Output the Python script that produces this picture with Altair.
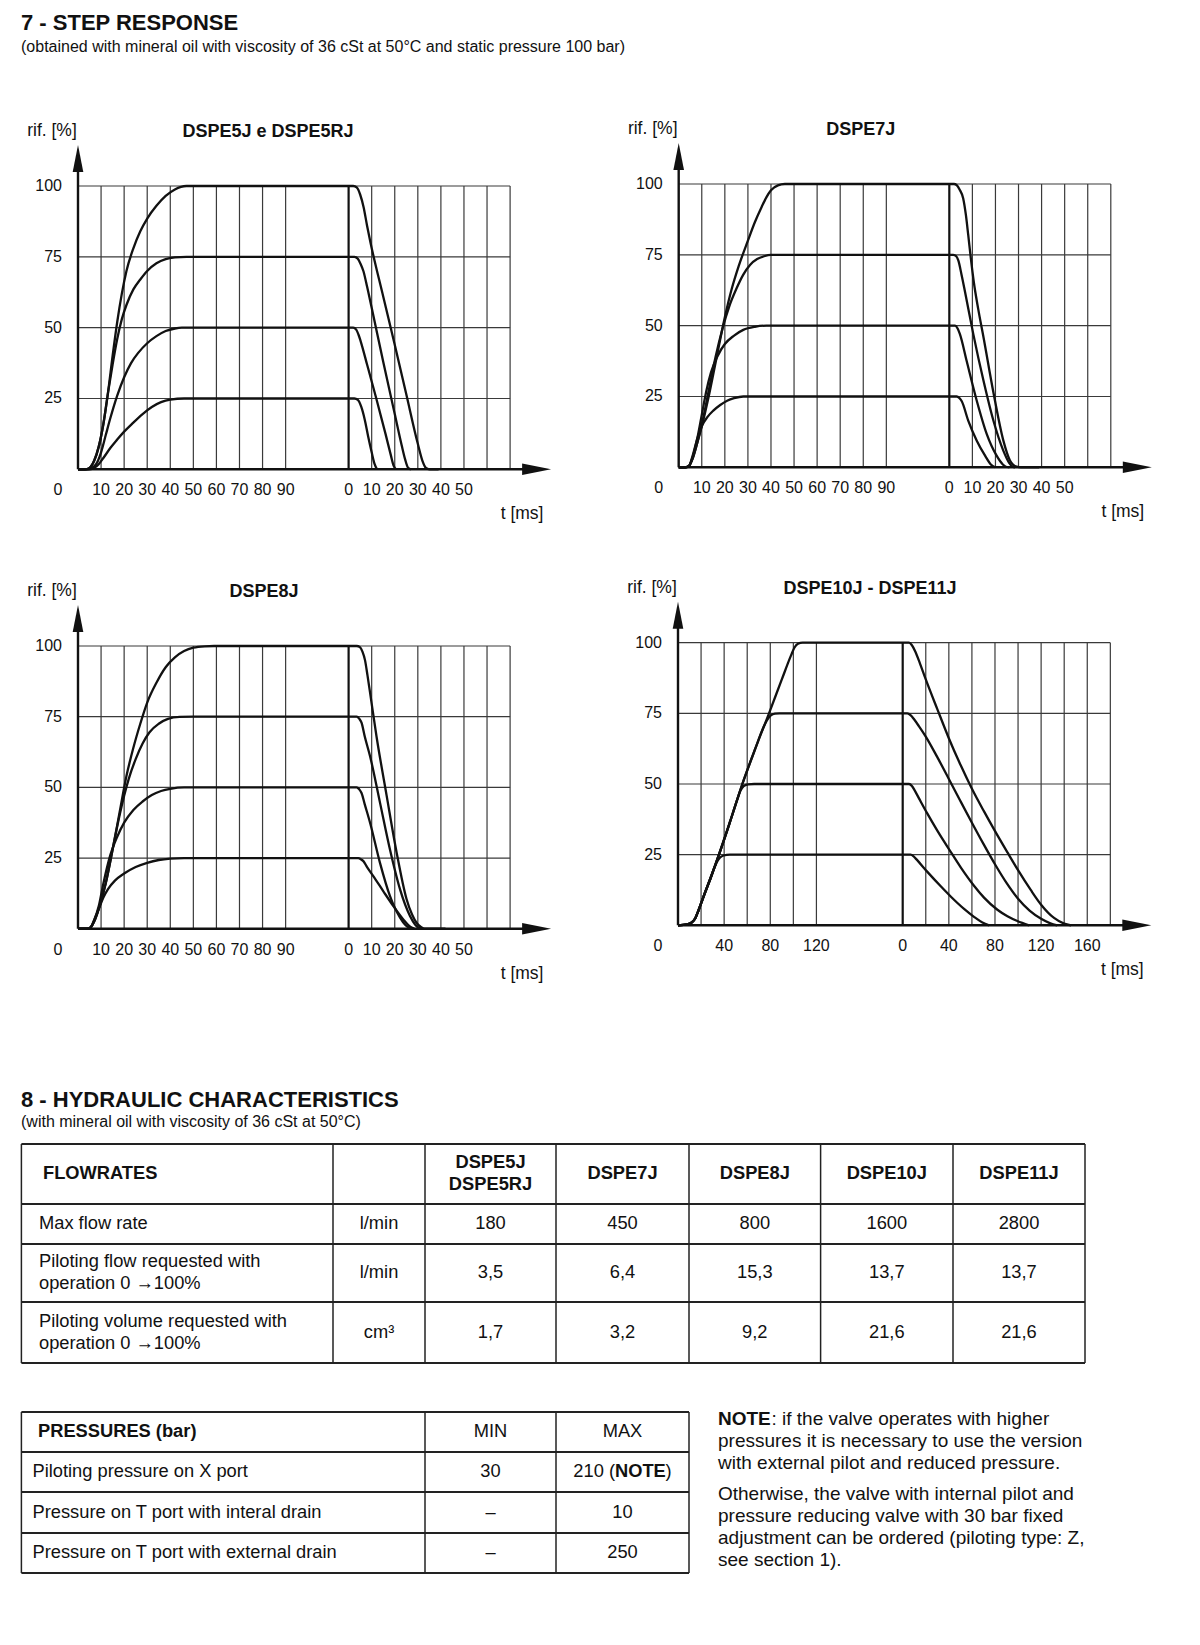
import altair as alt
import pandas as pd

FONT = "Liberation Sans"

# ---------------- step response data: (t [ms], rif. [%]) ----------------
LEVELS = [25, 50, 75, 100]

DSPE5_RISE = {
    100: [(0, 0), (3, 0), (5, 0.5), (7, 3), (9, 8), (11, 16), (13, 27), (15, 40), (17, 52), (19, 62), (21, 70),
          (24, 78), (27, 84), (30, 88.5), (34, 93), (38, 96.5), (42, 98.8), (47, 100)],
    75: [(0, 0), (3, 0), (5, 0.5), (7, 3), (9, 8), (11, 16), (13, 27), (15, 37), (17, 46), (19, 53), (21, 58),
         (24, 63.5), (27, 67), (30, 70), (34, 72.7), (38, 74.2), (42, 74.8), (47, 75)],
    50: [(0, 0), (4, 0), (6, 0.5), (8, 2), (10, 6), (12, 12), (14, 18), (17, 26), (20, 32.5), (23, 37.5),
         (26, 41), (30, 44.5), (34, 47), (38, 48.8), (42, 49.7), (45, 50)],
    25: [(0, 0), (5, 0), (8, 1), (11, 4), (14, 7.5), (17, 10.5), (20, 13.3), (24, 16.5), (28, 19.5), (32, 22),
         (36, 23.7), (40, 24.6), (46, 25)],
}
DSPE5_FALL = {
    100: [(0, 100), (2, 100), (3.5, 99.5), (5, 97), (6.5, 92.5), (8, 86), (9.5, 80), (15, 61), (20, 44),
          (25, 26.5), (30, 9), (32, 3), (33.5, 0.5), (35, 0), (39, 0)],
    75: [(0, 75), (2.5, 75), (4, 74.3), (5.2, 72.5), (6.4, 70), (8, 64.5), (10, 57), (15, 38), (20, 19.5),
         (23, 8.5), (24.5, 3.5), (25.8, 0.5), (27, 0)],
    50: [(0, 50), (2, 50), (3.3, 49.3), (4.3, 47.5), (5.3, 45), (8, 37), (12, 25), (16, 12.5), (18.3, 5),
         (19.5, 1.3), (20.5, 0)],
    25: [(0, 25), (2.5, 25), (4, 24.5), (5.5, 22), (7, 17.5), (8.5, 11.5), (10, 6), (11.2, 2), (12.3, 0)],
}

DSPE7_RISE = {
    100: [(0, 0), (3, 0), (4.5, 0.5), (6, 3), (8, 8.5), (10, 14.5), (13, 25), (16, 37), (20, 53), (23, 63),
          (26, 71), (30, 80), (33, 86.5), (36, 92), (38, 95.3), (40, 97.8), (43, 99.5), (46, 100)],
    75: [(0, 0), (3, 0), (4.5, 0.5), (6, 3), (8, 8.5), (10, 15), (13, 27), (16, 39), (19, 49), (22, 57),
         (25, 63), (28, 68), (31, 71.5), (34, 73.5), (37, 74.5), (40, 75)],
    50: [(0, 0), (3, 0), (4.5, 0.5), (6, 3.5), (8, 10), (10, 18.5), (12, 27), (14, 33.5), (17, 39.5),
         (20, 43.5), (24, 46.5), (28, 48.5), (33, 49.6), (38, 50)],
    25: [(0, 0), (3, 0), (4.5, 0.5), (6, 4), (8, 10), (10, 14.5), (12.5, 17.8), (15, 20), (18, 22),
         (21, 23.5), (24, 24.4), (28, 25)],
}
DSPE7_FALL = {
    100: [(0, 100), (2, 100), (3.2, 99.6), (4.5, 98), (6, 95), (7.2, 89), (8.2, 82), (9.3, 74), (10.6, 65.5),
          (12.5, 56), (14.8, 46), (19.1, 26.5), (23.4, 9.5), (26.3, 2.4), (29.2, 0.2), (31, 0), (39, 0)],
    75: [(0, 75), (1.7, 75), (3, 74.5), (3.9, 73), (5.3, 68), (6.8, 62), (10.4, 47), (14.8, 30.6), (19.1, 16.5),
         (23.4, 5.9), (26, 1.5), (27.5, 0.2), (28.5, 0)],
    50: [(0, 50), (2.5, 50), (3.6, 49), (4.6, 47), (7.5, 37.6), (11.9, 23.5), (16.2, 11.8), (20.5, 4.1),
         (23.2, 1), (24.5, 0.2), (26, 0)],
    25: [(0, 25), (3.2, 25), (4.3, 24.5), (5.4, 23.3), (8.2, 16.5), (11.9, 9.4), (15.5, 4.1), (18, 1), (19.8, 0)],
}

DSPE8_RISE = {
    100: [(0, 0), (4, 0), (5.5, 0.5), (7, 2.5), (9, 7), (12, 16), (15, 28), (18, 41), (21, 54), (24, 64),
          (27, 72.5), (30, 80), (34, 87), (38, 92.5), (42, 96), (46, 98.2), (50, 99.4), (55, 99.9), (59, 100)],
    75: [(0, 0), (4, 0), (5.5, 0.5), (7, 2.5), (9, 7), (12, 16), (15, 28), (18, 40), (20, 47), (22, 53),
         (25, 60), (28, 65.5), (31, 69.5), (35, 72.5), (39, 74.2), (44, 74.9), (50, 75)],
    50: [(0, 0), (4, 0), (5.5, 0.5), (7, 3), (9, 8), (11, 16), (14, 26), (17, 32.5), (20, 37.5), (24, 42),
         (28, 45), (32, 47.3), (36, 48.7), (40, 49.5), (46, 50)],
    25: [(0, 0), (4, 0), (5.5, 0.5), (7, 3), (9, 7), (11, 11), (13, 14), (16, 17), (20, 19.5), (25, 21.8),
         (30, 23.3), (35, 24.3), (40, 24.8), (46, 25)],
}
DSPE8_FALL = {
    100: [(0, 100), (3.5, 100), (4.9, 99.6), (6, 98), (7.1, 95), (8.2, 89.5), (9.3, 83.5), (12.1, 68),
          (16.5, 47), (20.8, 27), (25.1, 10.5), (27.5, 5), (29.5, 2), (31.5, 0.5), (33, 0), (42, 0)],
    75: [(0, 75), (3.5, 75), (4.6, 74.3), (5.6, 72.9), (7, 68), (9.3, 61), (13.6, 44.6), (17.9, 28.1),
         (22.3, 13.9), (26.6, 4.5), (28.8, 1.5), (30.2, 0.4), (31.5, 0)],
    50: [(0, 50), (3.5, 50), (4.6, 49.3), (5.6, 48), (7, 44), (9.3, 37.5), (13.6, 23.3), (17.9, 11.6),
         (22.3, 3.9), (24.5, 1.4), (25.9, 0.5), (27.5, 0)],
    25: [(0, 25), (4.2, 25), (5.3, 24.6), (6.4, 23.9), (8, 21.8), (10.7, 18.6), (15, 13.3), (19.4, 8),
         (23.7, 3.3), (26, 1.2), (27.3, 0.4), (28.5, 0)],
}

DSPE10_RISE = {
    100: [(0, 0), (8, 0.3), (12, 1), (15, 2.5), (18, 5.5), (22, 10), (28.5, 17), (35.5, 25), (45, 36.5),
          (55.8, 50), (67, 62.5), (78.9, 75), (90, 87), (98, 95.5), (101, 98.3), (104, 99.6), (108, 100)],
    75: [(0, 0), (8, 0.3), (12, 1), (15, 2.5), (18, 5.5), (22, 10), (28.5, 17), (35.5, 25), (45, 36.5),
         (55.8, 50), (67, 62.5), (74, 70), (77.5, 72.8), (80.5, 74.3), (84, 74.9), (88, 75)],
    50: [(0, 0), (8, 0.3), (12, 1), (15, 2.5), (18, 5.5), (22, 10), (28.5, 17), (35.5, 25), (45, 36.5),
         (51, 44), (54, 47.5), (57, 49.3), (61, 49.9), (66, 50)],
    25: [(0, 0), (8, 0.3), (12, 1), (15, 2.5), (18, 5.5), (22, 10), (28.5, 17), (31.5, 20.3), (34, 22.6),
         (36.5, 24), (39.5, 24.7), (45, 25)],
}
DSPE10_FALL = {
    100: [(0, 100), (5.5, 100), (8, 99.1), (11, 96.8), (15, 92.6), (20, 87), (30, 76.5), (39.9, 66.3),
          (50.3, 56.6), (59.8, 48.5), (70.5, 40.3), (79.8, 33.5), (90.8, 25.8), (100, 19.5), (111, 12.5),
          (120, 7.3), (131.2, 2.6), (139.9, 0.6), (146, 0)],
    75: [(0, 75), (4, 75), (7, 74.3), (10, 72.8), (14, 70.5), (20, 66.8), (30, 59.5), (40, 51.8), (50, 44),
         (60, 36.3), (70, 28.8), (80, 21.6), (90, 15), (100, 9.4), (110, 5.2), (120, 2.3), (128, 0.7), (134, 0)],
    50: [(0, 50), (5.5, 50), (8, 49.3), (10, 48), (14, 45), (21.4, 39.5), (30, 33.5), (41.6, 26), (50.3, 20.5),
         (61.8, 14), (70.5, 9.8), (82.1, 5.5), (90.8, 3.2), (99.4, 1.5), (109.5, 0)],
    25: [(0, 25), (6.9, 25), (9.2, 24.5), (11.3, 23.6), (21.4, 18.9), (33, 13.8), (41.6, 10.2), (53.2, 5.8),
         (61.8, 3), (69.1, 1), (74.9, 0)],
}

# grid lines and tick labels (ms)
GRID_RISE_10 = [10, 20, 30, 40, 50, 60, 70, 80, 90]
GRID_FALL_10 = [10, 20, 30, 40, 50, 60, 70]
LAB_RISE_10 = [10, 20, 30, 40, 50, 60, 70, 80, 90]
LAB_FALL_10 = [0, 10, 20, 30, 40, 50]
GRID_RISE_20 = [20, 40, 60, 80, 100, 120]
GRID_FALL_20 = [20, 40, 60, 80, 100, 120, 140, 160, 180]
LAB_RISE_20 = [40, 80, 120]
LAB_FALL_20 = [0, 40, 80, 120, 160]
Y_LABELS = [100, 75, 50, 25]

# ---------------- table data ----------------
FLOW_HEAD = ["FLOWRATES", "", "DSPE5J\nDSPE5RJ", "DSPE7J", "DSPE8J", "DSPE10J", "DSPE11J"]
FLOW_ROWS = ["Max flow rate", "Piloting flow requested with\noperation 0 \u2192100%",
             "Piloting volume requested with\noperation 0 \u2192100%"]
FLOW_UNITS = ["l/min", "l/min", "cm\u00b3"]
MAX_FLOW = ["180", "450", "800", "1600", "2800"]
PILOT_FLOW = ["3,5", "6,4", "15,3", "13,7", "13,7"]
PILOT_VOLUME = ["1,7", "3,2", "9,2", "21,6", "21,6"]

PRESS_HEAD = ["PRESSURES (bar)", "MIN", "MAX"]
PRESS_ROWS = ["Piloting pressure on X port", "Pressure on T port with interal drain",
              "Pressure on T port with external drain"]
PRESS_MIN = ["30", "\u2013", "\u2013"]
PRESS_MAX = ["210 (NOTE)", "10", "250"]

NOTE_LINES = [": if the valve operates with higher", "pressures it is necessary to use the version",
              "with external pilot and reduced pressure.", "Otherwise, the valve with internal pilot and",
              "pressure reducing valve with 30 bar fixed", "adjustment can be ordered (piloting type: Z,",
              "see section 1)."]

TITLE1 = "7 - STEP RESPONSE"
SUB1 = "(obtained with mineral oil with viscosity of 36 cSt at 50\u00b0C and static pressure 100 bar)"
TITLE2 = "8 - HYDRAULIC CHARACTERISTICS"
SUB2 = "(with mineral oil with viscosity of 36 cSt at 50\u00b0C)"

# ---------------- layout ----------------
PW, PH, U = 592, 460, 23.07
INK = "#111111"
GRIDC = "#3a3a3a"


def panel(title, rise, fall, per_unit, brk, grid_rise, grid_fall, lab_rise, lab_fall, a, y100, y0, title_dx):
    k = (y0 - y100) / 100.0
    xs = alt.Scale(domain=[-a / U, (PW - a) / U], nice=False, zero=False)
    ys = alt.Scale(domain=[(y0 - PH) / k, y0 / k], nice=False, zero=False)

    def X(f):
        return alt.X(f, type="quantitative", scale=xs, axis=None)

    def Y(f):
        return alt.Y(f, type="quantitative", scale=ys, axis=None)

    g_end = brk + grid_fall[-1] / per_unit

    rows = []
    for lvl in LEVELS:
        pts = [(t / per_unit, v) for t, v in rise[lvl]] + [(brk + t / per_unit, v) for t, v in fall[lvl]]
        for i, (g, v) in enumerate(pts):
            rows.append({"g": g, "v": v, "level": str(lvl), "o": i})
    curves = pd.DataFrame(rows)

    hgrid = pd.DataFrame({"v": LEVELS, "g": 0.0, "g2": g_end})
    vpos = [t / per_unit for t in grid_rise] + [brk + t / per_unit for t in grid_fall]
    vgrid = pd.DataFrame({"g": vpos, "v": 0.0, "v2": 100.0})
    brk_df = pd.DataFrame({"g": [brk], "v": [0.0], "v2": [100.0]})
    yaxis = pd.DataFrame({"g": [0.0], "v": [0.0], "v2": [100 + 16 / k]})
    xaxis = pd.DataFrame({"v": [0.0], "g": [0.0], "g2": [g_end + 14 / U]})
    up = pd.DataFrame({"g": [0.0], "v": [100.0]})
    right = pd.DataFrame({"g": [g_end], "v": [0.0]})

    ytl = pd.DataFrame({"g": 0.0, "v": Y_LABELS, "t": [str(x) for x in Y_LABELS]})
    corner = pd.DataFrame({"g": [0.0], "v": [0.0], "t": ["0"]})
    xtl = pd.DataFrame({"g": [t / per_unit for t in lab_rise] + [brk + t / per_unit for t in lab_fall],
                        "v": 0.0, "t": [str(t) for t in lab_rise] + [str(t) for t in lab_fall]})
    tms = pd.DataFrame({"g": [g_end], "v": [0.0], "t": ["t [ms]"]})
    rif = pd.DataFrame({"g": [0.0], "v": [100.0], "t": ["rif. [%]"]})
    ttl = pd.DataFrame({"g": [0.0], "v": [100.0], "t": [title]})

    layers = [
        alt.Chart(hgrid).mark_rule(color=GRIDC, strokeWidth=1.2).encode(x=X("g"), x2="g2", y=Y("v")),
        alt.Chart(vgrid).mark_rule(color=GRIDC, strokeWidth=1.2).encode(x=X("g"), y=Y("v"), y2="v2"),
        alt.Chart(brk_df).mark_rule(color=INK, strokeWidth=2.2).encode(x=X("g"), y=Y("v"), y2="v2"),
        alt.Chart(yaxis).mark_rule(color=INK, strokeWidth=2.4).encode(x=X("g"), y=Y("v"), y2="v2"),
        alt.Chart(xaxis).mark_rule(color=INK, strokeWidth=2.4).encode(x=X("g"), x2="g2", y=Y("v")),
        alt.Chart(up).mark_point(shape="M0,-41L5.3,-14L-5.3,-14Z", size=4, filled=True, color=INK,
                                 opacity=1, strokeWidth=0).encode(x=X("g"), y=Y("v")),
        alt.Chart(right).mark_point(shape="M41,0L12,-5.8L12,5.8Z", size=4, filled=True, color=INK,
                                    opacity=1, strokeWidth=0).encode(x=X("g"), y=Y("v")),
        alt.Chart(curves).mark_line(color=INK, strokeWidth=2.3, interpolate="monotone").encode(
            x=X("g"), y=Y("v"), detail="level:N", order="o:Q"),
        alt.Chart(ytl).mark_text(font=FONT, fontSize=16, align="right", baseline="middle", dx=-16,
                                 color=INK).encode(x=X("g"), y=Y("v"), text="t:N"),
        alt.Chart(corner).mark_text(font=FONT, fontSize=16, align="center", baseline="middle", dx=-20,
                                    dy=21, color=INK).encode(x=X("g"), y=Y("v"), text="t:N"),
        alt.Chart(xtl).mark_text(font=FONT, fontSize=16, align="center", baseline="middle", dy=21,
                                 color=INK).encode(x=X("g"), y=Y("v"), text="t:N"),
        alt.Chart(tms).mark_text(font=FONT, fontSize=17.5, align="center", baseline="middle", dx=12,
                                 dy=45, color=INK).encode(x=X("g"), y=Y("v"), text="t:N"),
        alt.Chart(rif).mark_text(font=FONT, fontSize=17.5, align="center", baseline="middle", dx=-26,
                                 dy=-55, color=INK).encode(x=X("g"), y=Y("v"), text="t:N"),
        alt.Chart(ttl).mark_text(font=FONT, fontSize=18, fontWeight="bold", align="center",
                                 baseline="middle", dx=title_dx, dy=-54, color=INK).encode(
            x=X("g"), y=Y("v"), text="t:N"),
    ]
    return alt.layer(*layers).properties(width=PW, height=PH)


p1 = panel("DSPE5J e DSPE5RJ", DSPE5_RISE, DSPE5_FALL, 10.0, 11.73, GRID_RISE_10, GRID_FALL_10,
           LAB_RISE_10, LAB_FALL_10, 70.0, 88.0, 371.3, 190)
p2 = panel("DSPE7J", DSPE7_RISE, DSPE7_FALL, 10.0, 11.73, GRID_RISE_10, GRID_FALL_10,
           LAB_RISE_10, LAB_FALL_10, 78.7, 86.0, 369.3, 182)
p3 = panel("DSPE8J", DSPE8_RISE, DSPE8_FALL, 10.0, 11.73, GRID_RISE_10, GRID_FALL_10,
           LAB_RISE_10, LAB_FALL_10, 70.0, 88.0, 370.7, 186)
p4 = panel("DSPE10J - DSPE11J", DSPE10_RISE, DSPE10_FALL, 20.0, 9.74, GRID_RISE_20, GRID_FALL_20,
           LAB_RISE_20, LAB_FALL_20, 78.0, 84.7, 367.3, 192)

# ---------------- header ----------------
HW, HH = 1184, 90
hx = alt.Scale(domain=[0, HW], nice=False, zero=False)
hy = alt.Scale(domain=[0, HH], nice=False, zero=False, reverse=True)
head_df = pd.DataFrame({"x": [13.0], "y": [21.5], "t": [TITLE1]})
sub_df = pd.DataFrame({"x": [13.0], "y": [44.0], "t": [SUB1]})
header = alt.layer(
    alt.Chart(head_df).mark_text(font=FONT, fontSize=22, fontWeight="bold", align="left",
                                 baseline="alphabetic", color=INK).encode(
        x=alt.X("x:Q", scale=hx, axis=None), y=alt.Y("y:Q", scale=hy, axis=None), text="t:N"),
    alt.Chart(sub_df).mark_text(font=FONT, fontSize=16, align="left", baseline="alphabetic",
                                color=INK).encode(
        x=alt.X("x:Q", scale=hx, axis=None), y=alt.Y("y:Q", scale=hy, axis=None), text="t:N"),
).properties(width=HW, height=HH)

# ---------------- tables ----------------
TW, TH = 1184, 572
LINE_H = 22
tx = alt.Scale(domain=[0, TW], nice=False, zero=False)
ty = alt.Scale(domain=[0, TH], nice=False, zero=False, reverse=True)
T1_COLS = [13.4, 325, 417, 548, 681, 812.6, 945, 1077]
T1_ROWS = [126, 186, 226, 284, 345]
T2_COLS = [13.4, 417, 548, 681]
T2_ROWS = [394, 434, 474, 515, 555]


def mid(lst, i):
    return (lst[i] + lst[i + 1]) / 2.0


def cell(x, yc, text):
    n = text.count("\n") + 1
    return {"x": x, "y": yc - (n - 1) * LINE_H / 2.0, "t": text}


hrules, vrules = [], []
for r in T1_ROWS:
    hrules.append({"x": T1_COLS[0], "x2": T1_COLS[-1], "y": r})
for c in T1_COLS:
    vrules.append({"x": c, "y": T1_ROWS[0], "y2": T1_ROWS[-1]})
for r in T2_ROWS:
    hrules.append({"x": T2_COLS[0], "x2": T2_COLS[-1], "y": r})
for c in T2_COLS:
    vrules.append({"x": c, "y": T2_ROWS[0], "y2": T2_ROWS[-1]})

bold_c, bold_l, reg_c, reg_l = [], [], [], []
bold_l.append(cell(35, mid(T1_ROWS, 0), FLOW_HEAD[0]))
for j in range(2, 7):
    bold_c.append(cell(mid(T1_COLS, j), mid(T1_ROWS, 0), FLOW_HEAD[j]))
row_vals = [MAX_FLOW, PILOT_FLOW, PILOT_VOLUME]
for i in range(3):
    yy = mid(T1_ROWS, i + 1)
    reg_l.append(cell(31, yy, FLOW_ROWS[i]))
    reg_c.append(cell(mid(T1_COLS, 1), yy, FLOW_UNITS[i]))
    for j in range(5):
        reg_c.append(cell(mid(T1_COLS, j + 2), yy, row_vals[i][j]))

bold_l.append(cell(30, mid(T2_ROWS, 0), PRESS_HEAD[0]))
reg_c.append(cell(mid(T2_COLS, 1), mid(T2_ROWS, 0), PRESS_HEAD[1]))
reg_c.append(cell(mid(T2_COLS, 2), mid(T2_ROWS, 0), PRESS_HEAD[2]))
reg_r, reg_l2 = [], []
for i in range(3):
    yy = mid(T2_ROWS, i + 1)
    reg_l.append(cell(24.5, yy, PRESS_ROWS[i]))
    reg_c.append(cell(mid(T2_COLS, 1), yy, PRESS_MIN[i]))
    val = PRESS_MAX[i]
    if "(NOTE)" in val:
        cx = mid(T2_COLS, 2)
        pre = val.split("(NOTE)")[0] + "("
        reg_r.append(cell(cx - 7.5, yy, pre))
        bold_l.append(cell(cx - 7.5, yy, "NOTE"))
        reg_l2.append(cell(cx + 43, yy, ")"))
    else:
        reg_c.append(cell(mid(T2_COLS, 2), yy, val))

NOTE_Y = [401, 423, 445, 476, 498, 520, 542]
note_bold = [{"x": 710, "y": NOTE_Y[0], "t": "NOTE"}]
note_reg = [{"x": 763.5 if i == 0 else 710, "y": NOTE_Y[i], "t": s} for i, s in enumerate(NOTE_LINES)]

head2 = pd.DataFrame([{"x": 13, "y": 89, "t": TITLE2}])
sub2 = pd.DataFrame([{"x": 13, "y": 109, "t": SUB2}])


def TX(f="x"):
    return alt.X(f + ":Q", scale=tx, axis=None)


def TY(f="y"):
    return alt.Y(f + ":Q", scale=ty, axis=None)


def txt(rows, **kw):
    base = dict(font=FONT, fontSize=18.3, baseline="middle", color=INK, lineBreak="\n", lineHeight=LINE_H)
    base.update(kw)
    return alt.Chart(pd.DataFrame(rows)).mark_text(**base).encode(x=TX(), y=TY(), text="t:N")


tables = alt.layer(
    alt.Chart(pd.DataFrame(hrules)).mark_rule(color="#222222", strokeWidth=2).encode(x=TX(), x2="x2:Q", y=TY()),
    alt.Chart(pd.DataFrame(vrules)).mark_rule(color="#222222", strokeWidth=1.5).encode(x=TX(), y=TY(), y2="y2:Q"),
    txt(bold_c, align="center", fontWeight="bold"),
    txt(bold_l, align="left", fontWeight="bold"),
    txt(reg_c, align="center"),
    txt(reg_l, align="left"),
    txt(reg_r, align="right"),
    txt(reg_l2, align="left"),
    txt(note_bold, align="left", fontWeight="bold", fontSize=19),
    txt(note_reg, align="left", fontSize=19),
    alt.Chart(head2).mark_text(font=FONT, fontSize=22, fontWeight="bold", align="left",
                               baseline="alphabetic", color=INK).encode(x=TX(), y=TY(), text="t:N"),
    alt.Chart(sub2).mark_text(font=FONT, fontSize=16, align="left", baseline="alphabetic",
                              color=INK).encode(x=TX(), y=TY(), text="t:N"),
).properties(width=TW, height=TH)

row1 = alt.hconcat(p1, p2, spacing=0)
row2 = alt.hconcat(p3, p4, spacing=0)
chart = alt.vconcat(header, row1, row2, tables, spacing=0).properties(
    padding=0, background="white"
).configure_view(stroke=None)

chart.save("out.html", embed_options={"renderer": "svg", "actions": False})
